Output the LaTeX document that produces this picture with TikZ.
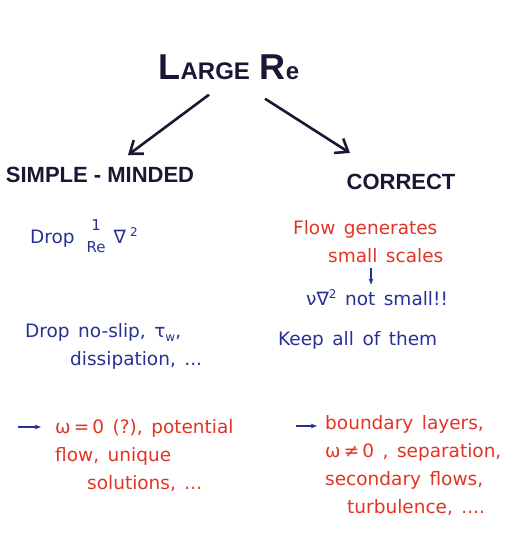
\documentclass[tikz,border=0pt]{standalone}
\usepackage{fontspec}
\setmainfont{Liberation Sans}
\newfontfamily\handfont{DejaVu Sans}
\usetikzlibrary{arrows.meta, positioning, calc}

\definecolor{inkblack}{RGB}{28,22,52}
\definecolor{inkblue}{RGB}{38,48,150}
\definecolor{inkred}{RGB}{226,52,36}

\newcommand{\smallsup}[1]{\raisebox{7pt}{\fontsize{12}{12}\selectfont #1}}
\newcommand{\widespaces}{\spaceskip=8.5pt plus 1pt\relax}

\begin{document}
\begin{tikzpicture}[
    x=1pt, y=-1pt,
    head/.style={font=\fontsize{22}{26}\selectfont\bfseries, text=inkblack, inner sep=0pt},
    note/.style={font=\handfont\fontsize{18.5}{28}\selectfont, text=#1, align=left, inner sep=0pt,
                 execute at begin node=\widespaces},
    bigarr/.style={-{Straight Barb[length=4mm, width=6mm]}, line width=2.6pt, inkblack},
    smallarr/.style={-{Stealth[length=2.2mm]}, line width=1.4pt, inkblue},
    >=Stealth
  ]
  \useasboundingbox (0,0) rectangle (513,535);

  % title and the two branches
  \node[head] (title) at (229,67)
    {\fontsize{36}{40}\selectfont L\fontsize{24}{28}\selectfont ARGE\hspace{10pt}\fontsize{36}{40}\selectfont R\fontsize{24}{28}\selectfont e};
  \node[head] (simple) at (100,175) {SIMPLE - MINDED};
  \node[head] (correct) at (401,182) {CORRECT};

  \draw[bigarr] ([xshift=-20pt,yshift=-15pt]title.south) -- ([xshift=28pt,yshift=12pt]simple.north);
  \draw[bigarr] ([xshift=36pt,yshift=-19pt]title.south) -- ([xshift=-51pt,yshift=21pt]correct.north);

  % simple-minded column
  \node[note=inkblue, anchor=west] (drop1) at (30,236)
    {Drop\hspace{12pt}\raisebox{-9pt}{\fontsize{15}{15}\selectfont\shortstack{1\\[8pt]Re}}\hspace{8pt}∇\hspace{4pt}\smallsup{2}};
  \node[note=inkblue, anchor=west] (drop2) at (25,346)
    {Drop no-slip, τ\raisebox{-4pt}{\fontsize{12}{12}\selectfont w},\\\hspace*{45pt}dissipation, ...};
  \node[note=inkred, anchor=west] (lres) at (55,456)
    {ω\,=\,0 (?), potential\\flow, unique\\\hspace*{32pt}solutions, ...};
  \coordinate (lstart) at (18,427);
  \draw[smallarr, shorten >=14pt] (lstart) -- (lstart -| lres.west);

  % correct column
  \node[note=inkred, anchor=west] (flow) at (293,242) {Flow generates\\\hspace*{35pt}small scales};
  \node[note=inkblue, anchor=west] (nu) at (306,298) {ν∇\smallsup{2} not small!!};
  \coordinate (down) at (371,0);
  \draw[smallarr, shorten <=5pt, shorten >=5pt] (flow.south -| down) -- (nu.north -| down);
  \node[note=inkblue, anchor=west] (keep) at (278,340) {Keep all of them};
  \node[note=inkred, anchor=west] (rres) at (325,466)
    {boundary layers,\\ω\,≠\,0 , separation,\\secondary flows,\\\hspace*{22pt}turbulence, ....};
  \coordinate (rstart) at (296,426);
  \draw[smallarr, shorten >=8pt] (rstart) -- (rstart -| rres.west);

\end{tikzpicture}
\end{document}
